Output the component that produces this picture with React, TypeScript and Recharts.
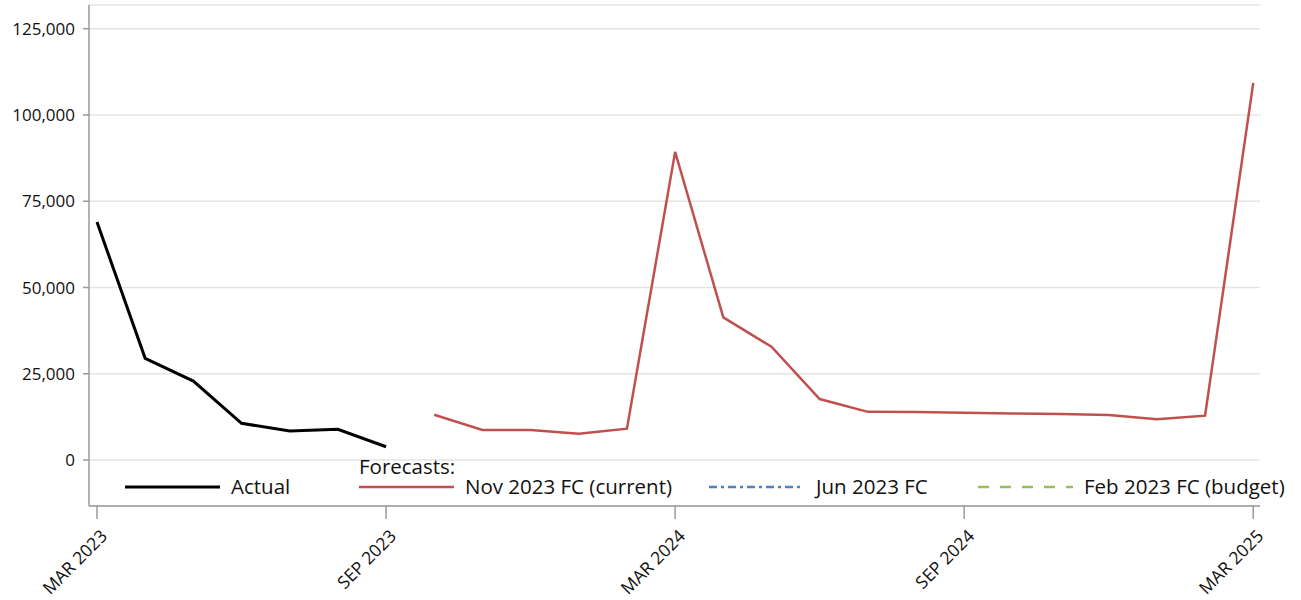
import React from "react";
import { LineChart, Line, XAxis, YAxis, CartesianGrid } from "recharts";

const months = [
  "MAR 2023", "APR 2023", "MAY 2023", "JUN 2023", "JUL 2023", "AUG 2023", "SEP 2023",
  "OCT 2023", "NOV 2023", "DEC 2023", "JAN 2024", "FEB 2024", "MAR 2024", "APR 2024",
  "MAY 2024", "JUN 2024", "JUL 2024", "AUG 2024", "SEP 2024", "OCT 2024", "NOV 2024",
  "DEC 2024", "JAN 2025", "FEB 2025", "MAR 2025",
];

const actual: (number | null)[] = [
  68950, 29460, 22890, 10630, 8400, 8890, 3850,
  null, null, null, null, null, null, null, null, null, null, null, null, null, null, null, null, null, null,
];

const nov2023FC: (number | null)[] = [
  null, null, null, null, null, null, null,
  13120, 8690, 8690, 7630, 9080, 89310, 41340, 32830, 17670, 13950, 13900, 13700, 13500, 13300, 13040, 11780, 12840, 109300,
];

const jun2023FC: (number | null)[] = months.map(() => null);
const feb2023FC: (number | null)[] = months.map(() => null);

const xTicks = [0, 6, 12, 18, 24];
const yTicks = [0, 25000, 50000, 75000, 100000, 125000];

const data = months.map((m, i) => ({
  x: i,
  label: m,
  actual: actual[i],
  nov: nov2023FC[i],
  jun: jun2023FC[i],
  feb: feb2023FC[i],
}));

const FONT = "'Open Sans', 'Noto Sans', sans-serif";

const XTick = (props: any) => {
  const { x, y, payload } = props;
  return (
    <g transform={`translate(${x + 2},${y + 7}) rotate(-45)`}>
      <text x={0} y={0} dy="0.75em" textAnchor="end" fill="#111" fontSize={17.5} fontFamily={FONT}>
        {months[payload.value]}
      </text>
    </g>
  );
};

const legendItems = [
  { name: "Actual", color: "#000", width: 3, dash: undefined as string | undefined, x: 125, tx: 231 },
  { name: "Nov 2023 FC (current)", color: "#C0504D", width: 2.5, dash: undefined, x: 359, tx: 465 },
  { name: "Jun 2023 FC", color: "#4F81BD", width: 2.5, dash: "8 4 3 4", x: 709, tx: 816 },
  { name: "Feb 2023 FC (budget)", color: "#9BBB59", width: 2.5, dash: "11 11", x: 978, tx: 1084 },
];

export default function App() {
  return (
    <div style={{ position: "absolute", left: 0, top: 0, width: 1301, height: 600, background: "#fff" }}>
      <LineChart
        width={1301}
        height={600}
        data={data}
        margin={{ top: 5, right: 41, bottom: 0, left: 0 }}
      >
        <CartesianGrid vertical={false} stroke="#e4e4e4" strokeWidth={1.5} />
        <XAxis
          dataKey="x"
          type="number"
          domain={[-0.166, 24.14]}
          ticks={xTicks}
          interval={0}
          height={94}
          axisLine={{ stroke: "#9a9a9a", strokeWidth: 1.5 }}
          tickLine={{ stroke: "#9a9a9a", strokeWidth: 1.5 }}
          tickSize={13}
          tick={<XTick />}
          allowDataOverflow
        />
        <YAxis
          type="number"
          domain={[-13330, 131870]}
          ticks={yTicks}
          interval={0}
          width={89}
          axisLine={{ stroke: "#9a9a9a", strokeWidth: 1.5 }}
          tickLine={{ stroke: "#9a9a9a", strokeWidth: 1.5 }}
          tickSize={6}
          tickMargin={8}
          allowDataOverflow
          tickFormatter={(v: number) => v.toLocaleString("en-US")}
          tick={{ fill: "#111", fontSize: 17, fontFamily: FONT }}
        />
        <Line dataKey="actual" stroke="#000" strokeWidth={3} dot={false} isAnimationActive={false} connectNulls={false} />
        <Line dataKey="nov" stroke="#C0504D" strokeWidth={2.5} dot={false} isAnimationActive={false} connectNulls={false} />
        <Line dataKey="jun" stroke="#4F81BD" strokeWidth={2.5} strokeDasharray="8 4 3 4" dot={false} isAnimationActive={false} />
        <Line dataKey="feb" stroke="#9BBB59" strokeWidth={2.5} strokeDasharray="11 11" dot={false} isAnimationActive={false} />
      </LineChart>
      <svg width={1301} height={600} style={{ position: "absolute", left: 0, top: 0, pointerEvents: "none" }}>
        <text x={359} y={474} fontSize={20.5} fontFamily={FONT} fill="#111">Forecasts:</text>
        {legendItems.map((it) => (
          <g key={it.name}>
            <line x1={it.x} x2={it.x + 95} y1={487} y2={487} stroke={it.color} strokeWidth={it.width} strokeDasharray={it.dash} />
            <text x={it.tx} y={494} fontSize={20.5} fontFamily={FONT} fill="#111">{it.name}</text>
          </g>
        ))}
      </svg>
    </div>
  );
}
